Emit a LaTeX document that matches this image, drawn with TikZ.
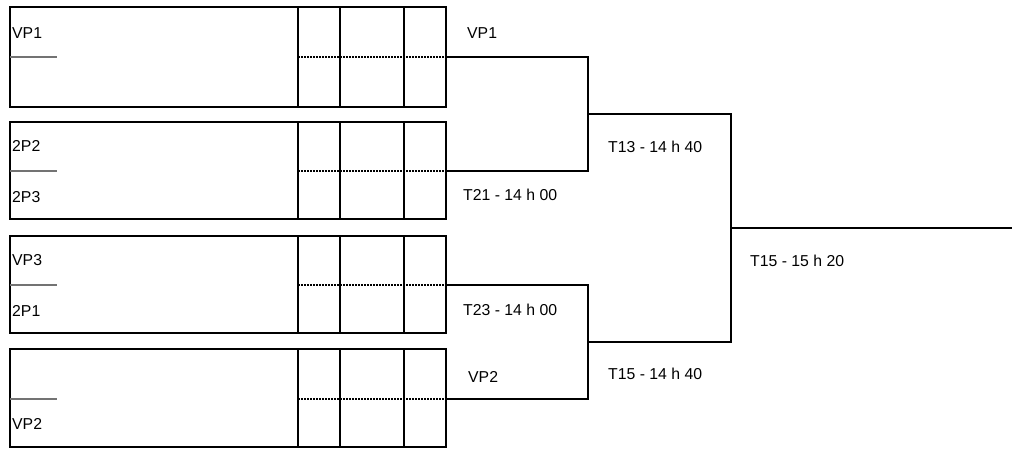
\documentclass[tikz,border=0pt]{standalone}
\usepackage{fontspec}
\setmainfont{Liberation Sans}
\begin{document}
\begin{tikzpicture}[x=1pt,y=-1pt,
  frame/.style={draw=black,line width=1.8pt},
  link/.style={draw=black,line width=1.8pt},
  dots/.style={draw=black,line width=2pt,dash pattern=on 2pt off 1pt},
  seed/.style={draw=black!55,line width=2pt},
  lbl/.style={anchor=west,inner sep=0pt,font=\fontsize{15.8}{18}\selectfont}]
\useasboundingbox (0,0) rectangle (1012,448);
% boxes
\foreach \t/\b/\m [count=\i] in {7/107/57, 122/219/171, 236/333/285, 349/447/399}{
  \draw[frame] (10,\t) rectangle (446,\b);
  \foreach \x in {298,340,404}{\draw[frame] (\x,\t) -- (\x,\b);}
  \draw[dots] (298,\m) -- (446,\m);
  \draw[seed] (10,\m) -- (57,\m);
  \coordinate (o\i) at (446,\m);
}
% box labels
\node[lbl] (n1) at (12,33) {VP1};
\node[lbl] (n2) at (12,146) {2P2};
\node[lbl] (n3) at (12,197) {2P3};
\node[lbl] (n4) at (12,260) {VP3};
\node[lbl] (n5) at (12,311) {2P1};
\node[lbl] (n6) at (12,424) {VP2};
% bracket points
\coordinate (a) at (588,57);
\coordinate (b) at (588,171);
\coordinate (am) at (588,114);
\coordinate (c) at (588,285);
\coordinate (d) at (588,399);
\coordinate (cm) at (588,342);
\coordinate (e) at (731,114);
\coordinate (f) at (731,342);
\coordinate (em) at (731,228);
\coordinate (g) at (1012,228);
\draw[link] (o1) -- (a) -- (b) -- (o2);
\draw[link] (o3) -- (c) -- (d) -- (o4);
\draw[link] (am) -- (e) -- (f) -- (cm);
\draw[link] (em) -- (g);
% bracket labels
\node[lbl] (l1) at (467,33) {VP1};
\node[lbl] (l2) at (463,195) {T21 - 14 h 00};
\node[lbl] (l3) at (608,147) {T13 - 14 h 40};
\node[lbl] (l4) at (463,310) {T23 - 14 h 00};
\node[lbl] (l5) at (468,377) {VP2};
\node[lbl] (l6) at (608,374) {T15 - 14 h 40};
\node[lbl] (l7) at (750,261) {T15 - 15 h 20};
\end{tikzpicture}
\end{document}
